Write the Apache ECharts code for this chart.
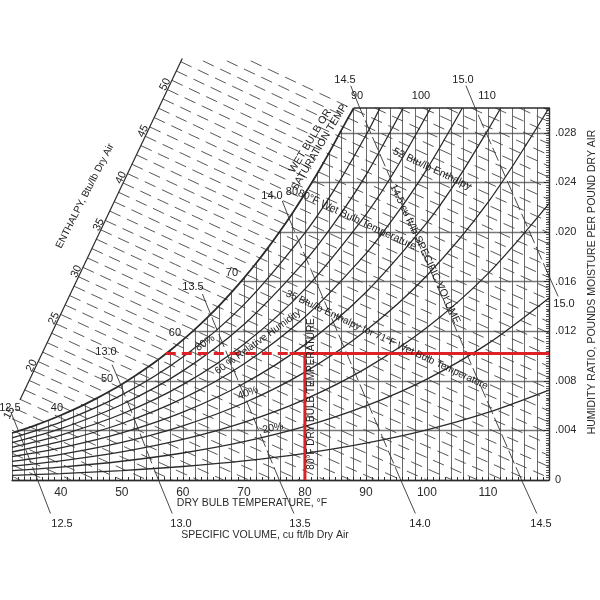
<!DOCTYPE html>
<html>
<head>
<meta charset="utf-8">
<script src="https://cdn.jsdelivr.net/npm/echarts@6.0.0/dist/echarts.min.js"></script>
<style>
html,body{margin:0;padding:0;background:#fff;}
#chart{width:600px;height:600px;}
</style>
</head>
<body>
<div id="chart"></div>
<script>
// ================= values =================
const dryBulbRange = [32, 120];          // °F
const humidityRange = [0, 0.030];        // lb moisture per lb dry air
const dryBulbLabels = [40, 50, 60, 70, 80, 90, 100, 110];

// saturation (100 % RH) curve  [dry bulb °F, humidity ratio]
const saturation = [[32,0.00379],[34,0.00410],[36,0.00445],[38,0.00482],[40,0.00522],[42,0.00565],
  [44,0.00612],[46,0.00662],[48,0.00716],[50,0.00773],[52,0.00835],[54,0.00901],[56,0.00972],
  [58,0.01048],[60,0.01130],[62,0.01217],[64,0.01310],[66,0.01409],[68,0.01515],[70,0.01628],
  [72,0.01748],[74,0.01876],[76,0.02012],[78,0.02156],[80,0.02308],[82,0.02470],[84,0.02642],
  [86,0.02824],[88,0.03000]];

// relative humidity curves
const rh90 = [[32,0.003395],[40,0.004672],[50,0.00686],[60,0.00992],[70,0.014146],[80,0.019931],[85,0.023558],[90,0.0278],[92.3,0.030]];
const rh80 = [[32,0.003016],[40,0.004149],[50,0.006091],[60,0.008802],[70,0.012543],[80,0.017654],[85,0.020854],[90,0.024588],[96.1,0.030]];
const rh70 = [[32,0.002638],[40,0.003627],[50,0.005323],[60,0.007688],[70,0.010947],[80,0.015392],[90,0.021409],[95,0.025159],[100.6,0.030]];
const rh60 = [[32,0.002259],[40,0.003107],[50,0.004557],[60,0.006578],[70,0.00936],[80,0.013147],[90,0.01826],[95,0.02144],[100,0.025078],[105.8,0.030]];
const rh50 = [[32,0.001882],[40,0.002587],[50,0.003793],[60,0.005472],[70,0.007781],[80,0.010917],[90,0.015143],[100,0.020759],[105,0.02423],[110,0.028236],[112.1,0.030]];
const rh40 = [[32,0.001504],[40,0.002068],[50,0.00303],[60,0.00437],[70,0.006209],[80,0.008703],[90,0.012055],[100,0.016497],[110,0.022385],[120,0.0300]];
const rh30 = [[32,0.001128],[40,0.00155],[50,0.00227],[60,0.003272],[70,0.004645],[80,0.006505],[90,0.008998],[100,0.012291],[110,0.01664],[120,0.022286]];
const rh20 = [[32,0.000751],[40,0.001032],[50,0.001512],[60,0.002177],[70,0.003089],[80,0.004321],[90,0.00597],[100,0.00814],[110,0.010995],[120,0.014683]];
const rh10 = [[32,0.000375],[40,0.000516],[50,0.000755],[60,0.001087],[70,0.001541],[80,0.002153],[90,0.002971],[100,0.004044],[110,0.005449],[120,0.007256]];

// enthalpy lines (Btu/lb dry air) and the diagonal enthalpy scale
const enthalpyLevels = [8,9,10,11,12,13,14,15,16,17,18,19,20,21,22,23,24,25,26,27,28,29,30,31,32,33,34,35,
  36,37,38,39,40,41,42,43,44,45,46,47,48,49,50,51,52,53,54,55,56,57,58,59,60,61,62];
const enthalpyScaleLabels = [15,20,25,30,35,40,45,50];
const enthalpyScaleEnds = [[33.3,0.00645],[59.9,0.0340]];

// specific volume lines (cu ft / lb dry air)
const vol125 = [[36.2,0],[33.1,0.0039]];
const vol130 = [[56.0,0],[49.8,0.0077]];
const vol135 = [[75.8,0],[64.6,0.0133]];
const vol140 = [[95.7,0],[77.4,0.0211]];
const vol145 = [[115.5,0],[89.0,0.030]];
const vol150 = [[120,0.01645],[107.9,0.030]];
const volLeaders = [
  [[36.2,0],[38.3,-0.0027]], [[56.0,0],[58.25,-0.0027]], [[75.8,0],[78.2,-0.0027]],
  [[95.7,0],[98.1,-0.0027]], [[115.5,0],[118.0,-0.0027]],
  [[89.0,0.030],[87.5,0.0318]], [[107.9,0.030],[106.4,0.0318]], [[120,0.01645],[121.5,0.0148]],
  [[33.1,0.0039],[31.8,0.0055]], [[49.8,0.0077],[48.4,0.0093]], [[64.6,0.0133],[63.2,0.0150]],
  [[77.4,0.0211],[76.3,0.0225]]
];

// worked example (red)
const redDashed = [[57.2,0.0102],[77.5,0.0102]];
const redSolid = [[77.5,0.0102],[120,0.0102]];
const redVertical = [[80,0.0102],[80,0]];

// ================= layout / style =================
const FONT = '"Liberation Sans", Arial, sans-serif';
const INK = '#2b2b2b';
const GRID_L = 12, GRID_R = 51, GRID_B = 120, GRID_T = 108;
const pxPerW = (600 - GRID_B - GRID_T) / humidityRange[1];
const outerMaxW = 0.036;
const GRID_T_OUTER = 600 - GRID_B - outerMaxW * pxPerW;

// ---- enthalpy line geometry (psychrometric relation) ----
function hOf(T, W) { return 0.24 * T + W * (1061 + 0.444 * T); }
function wOnH(h, T) { return (h - 0.24 * T) / (1061 + 0.444 * T); }
function tOnH(h, W) { return (h - 1061 * W) / (0.24 + 0.444 * W); }
function scalePoint(h) {
  const A = enthalpyScaleEnds[0], B = enthalpyScaleEnds[1];
  let lo = -1, hi = 2;
  const P = t => [A[0] + t * (B[0] - A[0]), A[1] + t * (B[1] - A[1])];
  for (let i = 0; i < 60; i++) {
    const m = (lo + hi) / 2, p = P(m);
    if (hOf(p[0], p[1]) < h) lo = m; else hi = m;
  }
  return P((lo + hi) / 2);
}
const hCorner = hOf(saturation[saturation.length - 1][0], humidityRange[1]);
const enthalpyLines = enthalpyLevels.map(h => {
  let T0 = scalePoint(h)[0];
  if (wOnH(h, T0) > 0.0338) T0 = tOnH(h, 0.0338);
  if (h > hCorner) T0 = tOnH(h, humidityRange[1]);
  if (T0 < dryBulbRange[0]) T0 = dryBulbRange[0];
  const T1 = Math.min(h / 0.24, dryBulbRange[1]);
  const pts = [];
  for (let k = 0; k <= 6; k++) {
    const T = T0 + (T1 - T0) * k / 6;
    pts.push([T, Math.max(0, wOnH(h, T))]);
  }
  return { coords: pts };
});

// ---- text items ----
function txt(text, pos, rotate, size, extra) {
  return { value: pos, label: Object.assign({ formatter: text, rotate: rotate || 0, fontSize: size || 11 }, extra || {}) };
}
const scaleLabelItems = enthalpyScaleLabels.map(h =>
  txt(String(h), scalePoint(h), 64, 11, { offset: [-17, -4] }));

const textItems = [
  // specific volume labels
  txt('12.5', [31.66, 0.0058]), txt('13.0', [47.40, 0.01032]), txt('13.5', [61.66, 0.01556]),
  txt('14.0', [74.61, 0.0229]), txt('14.5', [86.57, 0.03226]), txt('15.0', [105.91, 0.03226]),
  txt('15.0', [122.46, 0.01419]),
  txt('12.5', [40.19, -0.00355]), txt('13.0', [59.69, -0.00355]), txt('13.5', [79.20, -0.00355]),
  txt('14.0', [98.86, -0.00355]), txt('14.5', [118.69, -0.00355]),
  // wet bulb labels on saturation line and top dry-bulb labels
  txt('40', [39.37, 0.00581]), txt('50', [47.57, 0.00815]), txt('60', [58.71, 0.01185]),
  txt('70', [68.05, 0.01669]), txt('80', [77.88, 0.02323]),
  txt('90', [88.54, 0.03097]), txt('100', [99.03, 0.03097]), txt('110', [109.84, 0.03097]),
  // annotations
  txt('WET BULB OR\nSATURATION TEMP.', [81.65, 0.0271], 59, 10.5, { lineHeight: 11 }),
  txt('52 Btu/lb Enthalpy', [100.83, 0.02508], -25, 10.5),
  txt('80°F Wet Bulb Temperature', [88.54, 0.02097], -25, 10.5),
  txt('14.5 cu ft/lb SPECIFIC VOLUME', [99.68, 0.01823], -65, 10.5),
  txt('35 Btu/lb Enthalpy for 71°F Wet Bulb Temperature', [93.45, 0.01129], -25, 10),
  txt('60 % Relative Humidity', [72.31, 0.01113], 36, 10),
  txt('80%', [63.63, 0.01105], 35, 10.5),
  txt('40%', [70.67, 0.00702], 20, 10.5),
  txt('20%', [74.77, 0.00419], 12, 10.5),
  txt('80°F DRY BULB TEMPERATURE', [81.0, 0.00694], 90, 10),
  txt('ENTHALPY, Btu/lb Dry Air', [43.96, 0.0229], 63, 10)
].concat(scaleLabelItems);

function curve(data, width) {
  return {
    type: 'line', xAxisIndex: 1, yAxisIndex: 1, data: data, smooth: 0.3, symbol: 'none',
    lineStyle: { color: INK, width: width || 1.3 }, z: 4, silent: true, animation: false
  };
}

const option = {
  animation: false,
  backgroundColor: '#fff',
  grid: [
    { left: GRID_L, right: GRID_R, top: GRID_T, bottom: GRID_B, outerBoundsMode: 'none' },
    { left: GRID_L, right: GRID_R, top: GRID_T_OUTER, bottom: GRID_B, outerBoundsMode: 'none' }
  ],
  xAxis: [
    {
      gridIndex: 0, type: 'value', min: dryBulbRange[0], max: dryBulbRange[1], interval: 2,
      axisLine: { show: true, onZero: false, lineStyle: { color: INK, width: 1.3 } },
      axisTick: { show: true, inside: true, length: 3, lineStyle: { color: INK } },
      minorTick: { show: true, splitNumber: 2, length: 3, lineStyle: { color: INK } },
      axisLabel: {
        interval: 0, margin: 7, color: INK, fontSize: 12, fontFamily: FONT,
        formatter: v => dryBulbLabels.indexOf(Math.round(v)) >= 0 && Math.abs(v - Math.round(v)) < 1e-6 ? String(Math.round(v)) : ''
      },
      splitLine: { show: true, lineStyle: { color: '#444', width: 0.8 } }
    },
    { gridIndex: 1, type: 'value', min: dryBulbRange[0], max: dryBulbRange[1], show: false }
  ],
  yAxis: [
    {
      gridIndex: 0, type: 'value', position: 'right', min: humidityRange[0], max: humidityRange[1], interval: 0.004,
      axisLine: { show: true, lineStyle: { color: INK, width: 1.4 } },
      axisTick: { show: true, inside: true, length: 5, lineStyle: { color: INK } },
      minorTick: { show: true, splitNumber: 20, length: 3, lineStyle: { color: '#555' } },
      axisLabel: {
        interval: 0, margin: 6, color: INK, fontSize: 11, fontFamily: FONT,
        formatter: v => v < 1e-9 ? '0' : (v > 0.0285 ? '' : v.toFixed(3).replace(/^0/, ''))
      },
      splitLine: { show: true, showMaxLine: false, lineStyle: { color: '#777', width: 1.3 } }
    },
    { gridIndex: 1, type: 'value', min: 0, max: outerMaxW, show: false }
  ],
  graphic: [
    { type: 'text', x: 252, y: 503, silent: true,
      style: { text: 'DRY BULB TEMPERATURE, °F', fill: INK, font: '10.5px ' + FONT, align: 'center', verticalAlign: 'middle' } },
    { type: 'text', x: 265, y: 535, silent: true,
      style: { text: 'SPECIFIC VOLUME, cu ft/lb Dry Air', fill: INK, font: '10.5px ' + FONT, align: 'center', verticalAlign: 'middle' } },
    { type: 'text', x: 592, y: 282, rotation: Math.PI / 2, silent: true,
      style: { text: 'HUMIDITY RATIO, POUNDS MOISTURE PER POUND DRY AIR', fill: INK, font: '10.5px ' + FONT, align: 'center', verticalAlign: 'middle' } }
  ],
  series: [
    // white mask above the saturation curve hides grid lines there
    {
      type: 'line', xAxisIndex: 0, yAxisIndex: 0, data: saturation, symbol: 'none',
      lineStyle: { width: 0, opacity: 0 }, areaStyle: { color: '#fff', opacity: 1, origin: 'end' },
      z: 1, silent: true
    },
    // top border of chart
    {
      type: 'line', xAxisIndex: 1, yAxisIndex: 1, symbol: 'none', silent: true, z: 4,
      data: [saturation[saturation.length - 1], [dryBulbRange[1], humidityRange[1]]],
      lineStyle: { color: INK, width: 1.3 }
    },
    // enthalpy scale
    {
      type: 'line', xAxisIndex: 1, yAxisIndex: 1, symbol: 'none', silent: true, z: 4, clip: false,
      data: enthalpyScaleEnds, lineStyle: { color: INK, width: 1.2 }
    },
    // enthalpy dashed lines
    {
      type: 'lines', coordinateSystem: 'cartesian2d', xAxisIndex: 1, yAxisIndex: 1, polyline: true,
      data: enthalpyLines, clip: false, silent: true, z: 3,
      lineStyle: { color: '#444', width: 0.9, type: [12, 7], opacity: 1 }
    },
    // specific volume lines
    {
      type: 'lines', coordinateSystem: 'cartesian2d', xAxisIndex: 1, yAxisIndex: 1, polyline: true,
      data: [vol125, vol130, vol135, vol140, vol145, vol150].map(c => ({ coords: c })),
      clip: false, silent: true, z: 3,
      lineStyle: { color: '#333', width: 0.9, type: [14, 4], opacity: 1 }
    },
    {
      type: 'lines', coordinateSystem: 'cartesian2d', xAxisIndex: 1, yAxisIndex: 1, polyline: true,
      data: volLeaders.map(c => ({ coords: c })), clip: false, silent: true, z: 3,
      lineStyle: { color: '#333', width: 0.9, opacity: 1 }
    },
    curve(rh10), curve(rh20), curve(rh30), curve(rh40), curve(rh50),
    curve(rh60), curve(rh70), curve(rh80), curve(rh90), curve(saturation, 1.8),
    // red worked example
    {
      type: 'line', xAxisIndex: 1, yAxisIndex: 1, data: redDashed, symbol: 'none', silent: true, z: 8,
      lineStyle: { color: '#dd2226', width: 3, type: [10, 6] }
    },
    {
      type: 'line', xAxisIndex: 1, yAxisIndex: 1, data: redSolid, symbol: 'none', silent: true, z: 8,
      lineStyle: { color: '#dd2226', width: 3 }
    },
    {
      type: 'line', xAxisIndex: 1, yAxisIndex: 1, data: redVertical, symbol: 'none', silent: true, z: 8,
      lineStyle: { color: '#dd2226', width: 3 }
    },
    // text
    {
      type: 'scatter', xAxisIndex: 1, yAxisIndex: 1, data: textItems, symbolSize: 1, clip: false, silent: true, z: 10,
      itemStyle: { color: 'rgba(0,0,0,0)' },
      label: { show: true, position: 'inside', color: '#222', fontFamily: FONT, opacity: 1, align: 'center', verticalAlign: 'middle' }
    }
  ]
};

const chart = echarts.init(document.getElementById('chart'));
chart.setOption(option);
</script>
</body>
</html>
